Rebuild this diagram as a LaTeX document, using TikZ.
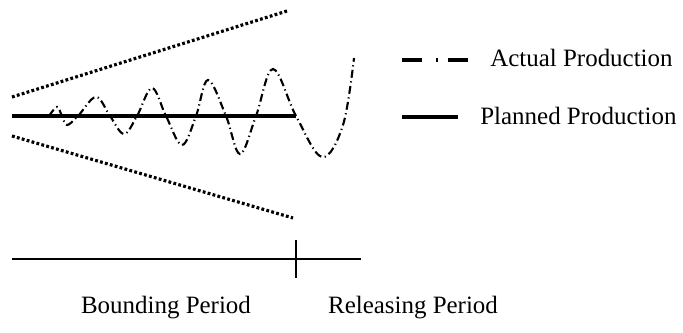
\documentclass[tikz,border=0pt]{standalone}
\usepackage{fontspec}
\setmainfont{Liberation Serif}
\begin{document}
\begin{tikzpicture}[x=0.02cm, y=-0.02cm, every node/.style={font=\fontsize{14.2}{16}\selectfont, inner sep=0pt},
  bound/.style={line width=1.8pt, dash pattern=on 1.6pt off 1.3pt},
  planned/.style={line width=2pt},
  actual/.style={line width=1.2pt, dash pattern=on 4.5pt off 2pt on 0.7pt off 2pt},
  legactual/.style={line width=1.8pt, dash pattern=on 11.4pt off 8pt on 1.1pt off 5.7pt}]
  \useasboundingbox (0,0) rectangle (683,332);
  % envelope
  \coordinate (ua) at (12,97);  \coordinate (ub) at (287,11);
  \coordinate (la) at (12,136); \coordinate (lb) at (293,218);
  \draw[bound] (ua) -- (ub);
  \draw[bound] (la) -- (lb);
  % planned and actual production
  \coordinate (pa) at (12,116); \coordinate (pb) at (296,116);
  \draw[planned] (pa) -- (pb);
  \draw[actual] plot[smooth, tension=0.6] coordinates {(49,116) (57,107) (62,116) (67,125) (78,116) (96,97) (110,116) (124,134) (137,116) (152,88) (166,116) (182,145) (196,116) (208,80) (226,116) (240,154) (256,116) (273,69) (296,116) (322,157) (343,125) (354,58)};
  % legend
  \coordinate (aa) at (402,60); \coordinate (ab) at (472,60);
  \draw[legactual] (aa) -- (ab);
  \node[anchor=west] (actual) at (490,58) {Actual Production};
  \coordinate (qa) at (402,117); \coordinate (qb) at (458,117);
  \draw[planned] (qa) -- (qb);
  \node[anchor=west] (plan) at (480,116) {Planned Production};
  % periods
  \coordinate (ta) at (12,259); \coordinate (tb) at (361,259);
  \coordinate (tu) at (296,240); \coordinate (td) at (296,278);
  \draw[line width=1.1pt] (ta) -- (tb);
  \draw[line width=1.1pt] (tu) -- (td);
  \node (bound) at (166,308) {Bounding Period};
  \node (release) at (413,308) {Releasing Period};
\end{tikzpicture}
\end{document}
